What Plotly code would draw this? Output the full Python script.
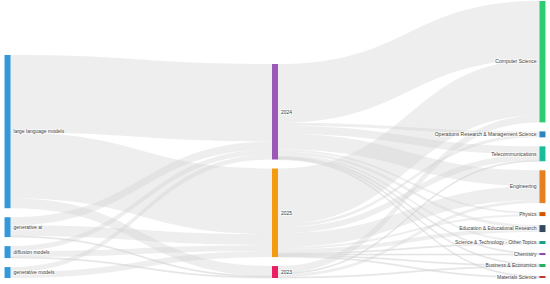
import plotly.graph_objects as go

# Nodes: keywords -> publication year -> research area
keywords = ['large language models', 'generative ai', 'diffusion models', 'generative models']
years = ['2024', '2025', '2023']
areas = ['Computer Science', 'Operations Research & Management Science', 'Telecommunications',
         'Engineering', 'Physics', 'Education & Educational Research',
         'Science & Technology - Other Topics', 'Chemistry', 'Business & Economics',
         'Materials Science']

keyword_colors = ['#3498db', '#3498db', '#3498db', '#3498db']
year_colors = ['#9b59b6', '#f39c12', '#e91e63']
area_colors = ['#2ecc71', '#2e86c1', '#1abc9c', '#e67e22', '#d35400', '#34495e',
               '#16a085', '#8e44ad', '#27ae60', '#c0392b']

# keyword -> year counts (rows: keywords, cols: years 2024, 2025, 2023)
keyword_year = [
    [78, 66, 10],
    [8, 11, 1],
    [5, 6, 1],
    [5, 6, 0],
]

# year -> area counts (rows: years 2024, 2025, 2023, cols: areas)
year_area = [
    [59, 3, 8, 16, 2, 3, 2, 1, 1, 1],
    [56, 3, 6, 14, 2, 4, 1, 1, 1, 1],
    [7, 0, 1, 3, 0, 0, 0, 0, 1, 0],
]

labels = keywords + years + areas
colors = keyword_colors + year_colors + area_colors

src, tgt, val = [], [], []
for i, row in enumerate(keyword_year):
    for j, v in enumerate(row):
        if v > 0:
            src.append(i)
            tgt.append(len(keywords) + j)
            val.append(v)
for i, row in enumerate(year_area):
    for j, v in enumerate(row):
        if v > 0:
            src.append(len(keywords) + i)
            tgt.append(len(keywords) + len(years) + j)
            val.append(v)

# keep the node order of each column: stack nodes bottom-aligned, like the original
W, H = 550, 284
margin = dict(l=7, r=6.5, t=1, b=6)
pad = 9
ph = H - margin['t'] - margin['b']
columns = [
    [sum(r) for r in keyword_year],
    [sum(r) for r in year_area],
    [sum(r[j] for r in year_area) for j in range(len(areas))],
]
ky = min((ph - (len(c) - 1) * pad) / sum(c) for c in columns)
node_x, node_y = [], []
for ci, col in enumerate(columns):
    y0 = ph - (sum(col) * ky + (len(col) - 1) * pad)
    for v in col:
        h = v * ky
        node_x.append([0.001, 0.5, 0.999][ci])
        node_y.append((y0 + h / 2) / ph)
        y0 += h + pad

fig = go.Figure(go.Sankey(
    arrangement='fixed',
    node=dict(
        label=labels,
        color=colors,
        pad=pad,
        thickness=6,
        line=dict(width=0),
        x=node_x,
        y=node_y,
    ),
    link=dict(
        source=src,
        target=tgt,
        value=val,
        color='rgba(210,210,210,0.38)',
    ),
    textfont=dict(size=5, color='#444', family='Arial'),
))

fig.update_layout(
    width=W,
    height=H,
    margin=margin,
    paper_bgcolor='white',
    font=dict(family='Arial', size=5),
)

fig.write_html("out.html", config={'displayModeBar': False},
               post_script="document.body.style.margin='0';")
